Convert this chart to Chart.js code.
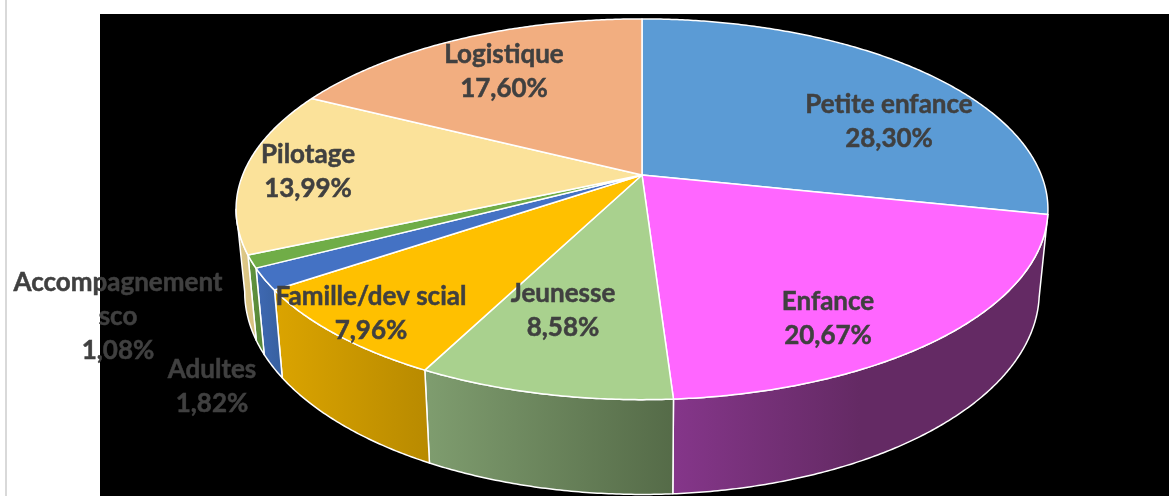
<!DOCTYPE html>
<html>
<head>
<meta charset="utf-8">
<style>
  html, body { margin: 0; padding: 0; background: #fff; overflow: hidden; }
  #wrap { width: 1169px; height: 496px; }
</style>
</head>
<body>
<div id="wrap"><canvas id="pieChart" width="1169" height="496"></canvas></div>
<script src="https://cdn.jsdelivr.net/npm/chart.js@4"></script>
<script>
// Data
const categories = ['Petite enfance', 'Enfance', 'Jeunesse', 'Famille/dev scial', 'Adultes', 'Accompagnement\nsco', 'Pilotage', 'Logistique'];
const shares = [28.30, 20.67, 8.58, 7.96, 1.82, 1.08, 13.99, 17.60];

// Colours
const topColors = ['#5B9BD5', '#FF66FF', '#A9D18E', '#FFC000', '#4472C4', '#70AD47', '#FBE29A', '#F2AE80'];
const sideLeft = ['#4A7FAE', '#85368A', '#7F9D6F', '#DBA400', '#3F69B3', '#62963F', '#E0CB8A', '#C8906A'];
const sideRight = ['#3F6C94', '#642A64', '#556B48', '#B88A00', '#37609F', '#568436', '#D6C07F', '#B5825F'];

// Label layout: centre x and y of the first line
const labelX = [889, 828, 563, 371, 212, 118, 308, 504];
const labelY = [105, 302, 294, 297, 370, 283, 155, 55];
const lineHeight = 34;

// Perspective of the two discs (same formula, top face and bottom face)
const centerX = 642;
const tilt = 0.18;
const topDisc = { y: 175, rx: 399.3, ry: 184.2 };
const bottomDisc = { y: 255.4, rx: 390.8, ry: 196 };

function project(disc, angle) {
  const u = Math.cos(angle), v = Math.sin(angle);
  const w = 1 - tilt * v;
  return { x: centerX + disc.rx * u / w, y: disc.y + disc.ry * v / w };
}

function arcPoints(disc, from, to) {
  const steps = Math.max(2, Math.ceil(Math.abs(to - from) / 0.008));
  const pts = [];
  for (let i = 0; i <= steps; i++) pts.push(project(disc, from + (to - from) * i / steps));
  return pts;
}

const pie3d = {
  id: 'pie3d',
  beforeDraw(chart) {
    const ctx = chart.ctx;
    ctx.save();
    ctx.fillStyle = '#fff';
    ctx.fillRect(0, 0, 1169, 496);
    ctx.fillStyle = '#D9D9D9';
    ctx.fillRect(5, 0, 2, 496);
    ctx.fillStyle = '#000';
    ctx.fillRect(100, 14, 1069, 482);
    ctx.restore();
  },
  // the library's slices give the angles, drawn here in perspective
  beforeDatasetDraw(chart, args) {
    const ctx = chart.ctx;
    const arcs = args.meta.data;
    ctx.save();
    ctx.strokeStyle = '#fff';
    ctx.lineJoin = 'round';
    ctx.lineWidth = 1.5;

    // side walls, only where the wall faces the viewer
    const lo = Math.asin(tilt), hi = Math.PI - lo;
    arcs.forEach((arc, i) => {
      let a0 = arc.startAngle, a1 = arc.endAngle;
      // bring to the 0..2pi range
      if (a1 < 0) { a0 += 2 * Math.PI; a1 += 2 * Math.PI; }
      const from = Math.max(a0, lo), to = Math.min(a1, hi);
      if (to - from < 0.03) return;
      const upper = arcPoints(topDisc, from, to);
      const lower = arcPoints(bottomDisc, from, to);
      const xs = upper.concat(lower).map(p => p.x);
      const minX = Math.min(...xs), maxX = Math.max(...xs);
      const width = maxX - minX;
      const grad = ctx.createLinearGradient(minX, 0, minX + (width > 300 ? width * 0.5 : width), 0);
      grad.addColorStop(0, sideLeft[i]);
      grad.addColorStop(1, sideRight[i]);
      ctx.beginPath();
      upper.forEach((p, k) => k ? ctx.lineTo(p.x, p.y) : ctx.moveTo(p.x, p.y));
      lower.reverse().forEach(p => ctx.lineTo(p.x, p.y));
      ctx.closePath();
      ctx.fillStyle = grad;
      ctx.fill();
      ctx.stroke();
    });

    // top face
    arcs.forEach((arc, i) => {
      const pts = arcPoints(topDisc, arc.startAngle, arc.endAngle);
      ctx.beginPath();
      ctx.moveTo(centerX, topDisc.y);
      pts.forEach(p => ctx.lineTo(p.x, p.y));
      ctx.closePath();
      ctx.fillStyle = topColors[i];
      ctx.fill();
      ctx.stroke();
    });
    ctx.restore();
    return false;
  },
  afterDatasetsDraw(chart) {
    const ctx = chart.ctx;
    ctx.save();
    ctx.font = 'bold 26px Lato';
    ctx.fillStyle = '#404040';
    ctx.strokeStyle = '#404040';
    ctx.lineWidth = 0.5;
    ctx.textAlign = 'center';
    ctx.textBaseline = 'middle';
    chart.data.labels.forEach((label, i) => {
      const lines = label.split('\n');
      lines.push(shares[i].toFixed(2).replace('.', ',') + '%');
      lines.forEach((line, k) => {
        ctx.fillText(line, labelX[i], labelY[i] + k * lineHeight);
        ctx.strokeText(line, labelX[i], labelY[i] + k * lineHeight);
      });
    });
    ctx.restore();
  }
};

new Chart(document.getElementById('pieChart'), {
  type: 'pie',
  data: {
    labels: categories,
    datasets: [{
      data: shares,
      backgroundColor: topColors,
      borderColor: '#fff'
    }]
  },
  options: {
    responsive: false,
    animation: false,
    plugins: {
      legend: { display: false },
      tooltip: { enabled: false }
    }
  },
  plugins: [pie3d]
});
</script>
</body>
</html>
